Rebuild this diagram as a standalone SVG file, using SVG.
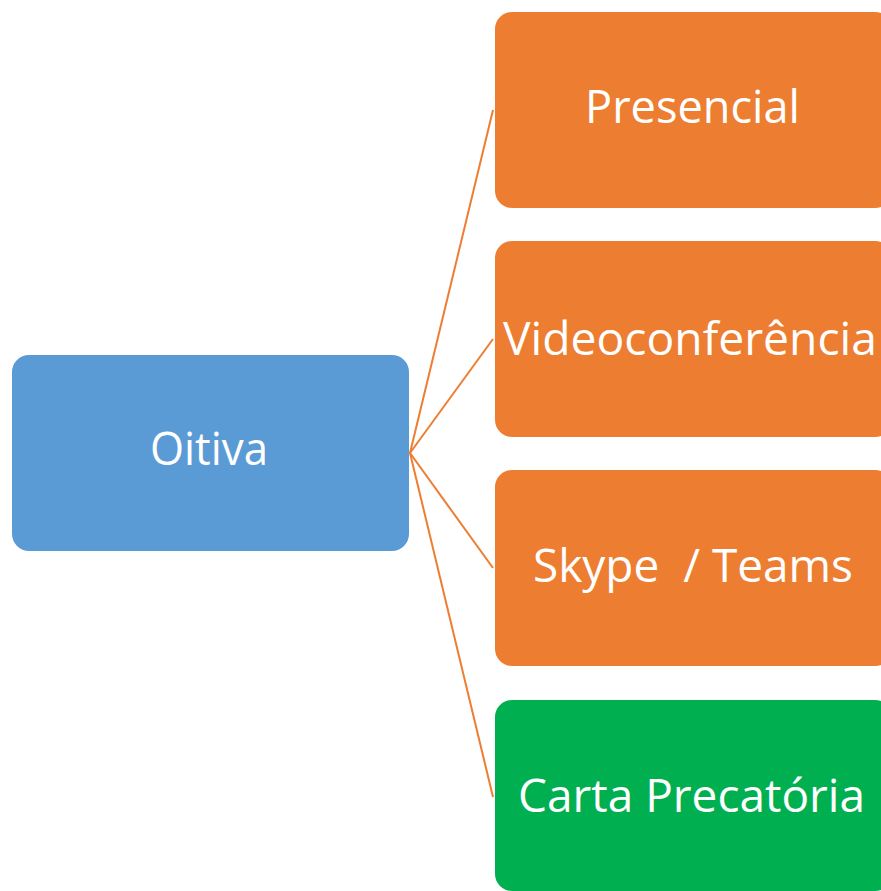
<svg xmlns="http://www.w3.org/2000/svg" width="881" height="891" viewBox="0 0 881 891">
<style>
.t{font-family:"Open Sans","Noto Sans","Liberation Sans",sans-serif;font-size:45px;fill:#ffffff;}
.c{stroke:#ED7D31;stroke-width:2;fill:none;}
.o{fill:#ED7D31;}
</style>
<rect width="881" height="891" fill="#ffffff"/>
<g id="connectors">
<line class="c" x1="410" y1="453" x2="493" y2="110"/>
<line class="c" x1="410" y1="453" x2="493" y2="339"/>
<line class="c" x1="410" y1="453" x2="493" y2="568"/>
<line class="c" x1="410" y1="453" x2="493" y2="797"/>
</g>
<g id="oitiva">
<rect x="12" y="355" width="397" height="196" rx="17" fill="#5B9BD5"/>
<text class="t" x="150" y="465" textLength="118" lengthAdjust="spacingAndGlyphs">Oitiva</text>
</g>
<g id="presencial">
<rect class="o" x="495" y="12" width="397" height="196" rx="17"/>
<text class="t" x="585" y="123" textLength="215" lengthAdjust="spacingAndGlyphs">Presencial</text>
</g>
<g id="videoconferencia">
<rect class="o" x="495" y="241" width="397" height="196" rx="17"/>
<text class="t" x="503" y="355" textLength="374" lengthAdjust="spacingAndGlyphs">Videoconferência</text>
</g>
<g id="skype-teams">
<rect class="o" x="495" y="470" width="397" height="196" rx="17"/>
<text class="t" x="533" y="582" textLength="320" lengthAdjust="spacingAndGlyphs" xml:space="preserve">Skype  / Teams</text>
</g>
<g id="carta-precatoria">
<rect x="495" y="700" width="397" height="191" rx="17" fill="#00B050"/>
<text class="t" x="518" y="812" textLength="347" lengthAdjust="spacingAndGlyphs">Carta Precatória</text>
</g>
</svg>
